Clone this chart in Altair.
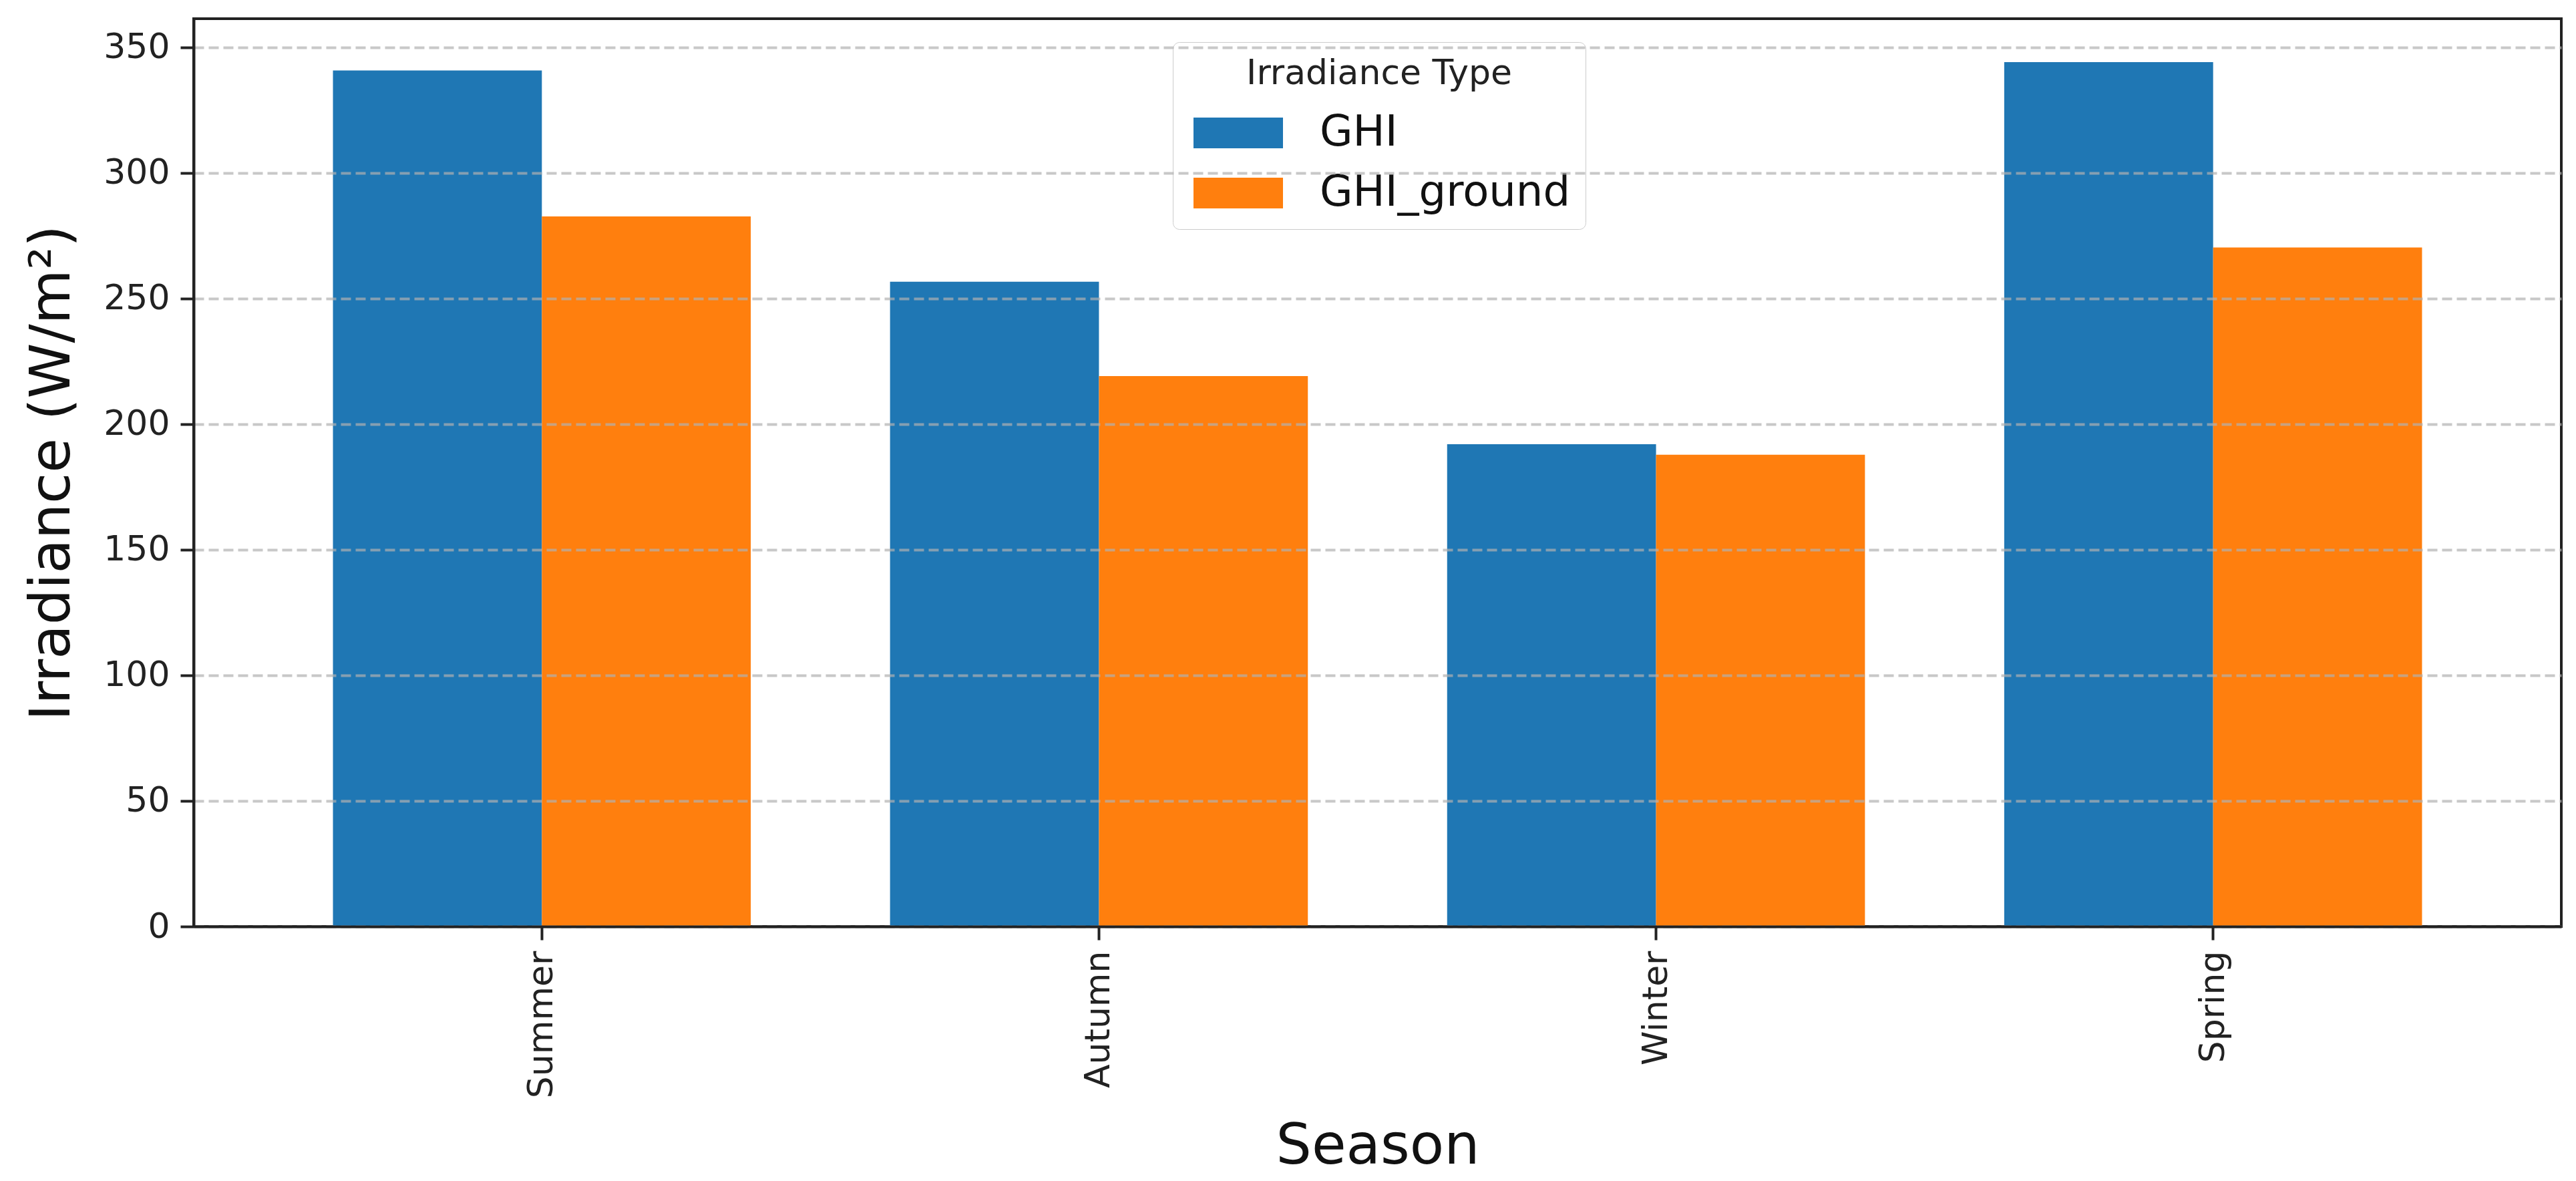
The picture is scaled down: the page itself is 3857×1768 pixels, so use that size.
import altair as alt
import pandas as pd

seasons = ["Summer", "Autumn", "Winter", "Spring"]
types = ["GHI", "GHI_ground"]
ghi = [340.8, 256.7, 192.0, 344.1]
ghi_ground = [282.7, 219.1, 187.8, 270.3]
y_ticks = [0, 50, 100, 150, 200, 250, 300, 350]
colors = ["#1f77b4", "#ff7f0e"]

rows = []
for s, a, b in zip(seasons, ghi, ghi_ground):
    rows.append({"Season": s, "Type": types[0], "Value": a})
    rows.append({"Season": s, "Type": types[1], "Value": b})
df = pd.DataFrame(rows)

FONT = "DejaVu Sans"

chart = alt.Chart(df).mark_bar().encode(
    x=alt.X(
        "Season:N",
        sort=seasons,
        scale=alt.Scale(paddingInner=0.25, paddingOuter=0.25),
        axis=alt.Axis(
            title="Season",
            labelAngle=270,
            labelFontSize=52,
            labelPadding=16,
            labelLimit=0,
            tickSize=20,
            tickWidth=4,
            tickColor="#222",
            domainColor="#222",
            domainWidth=4,
            grid=False,
            titleFontSize=84,
            titleFontWeight="normal",
            titleY=354,
            titleBaseline="alphabetic",
            titleLimit=0,
            zindex=1,
        ),
    ),
    xOffset=alt.XOffset("Type:N", sort=types, scale=alt.Scale(paddingInner=0, paddingOuter=0)),
    y=alt.Y(
        "Value:Q",
        scale=alt.Scale(domain=[0, 361.4], nice=False, zero=True),
        axis=alt.Axis(
            title="Irradiance (W/m²)",
            values=y_ticks,
            labelFontSize=52,
            labelPadding=16,
            labelLimit=0,
            tickSize=20,
            tickWidth=4,
            tickColor="#222",
            domainColor="#222",
            domainWidth=4,
            grid=True,
            gridDash=[15, 7],
            gridColor="#b0b0b0",
            gridOpacity=0.7,
            gridWidth=4,
            titleFontSize=84,
            titleFontWeight="normal",
            titleX=-187,
            titleBaseline="alphabetic",
            titleLimit=0,
            zindex=1,
        ),
    ),
    color=alt.Color(
        "Type:N",
        sort=types,
        scale=alt.Scale(domain=types, range=colors),
        legend=alt.Legend(
            title="Irradiance Type",
            orient="none",
            legendX=1466,
            legendY=35,
            titleAnchor="middle",
            titleFontSize=52,
            titleFontWeight="normal",
            titleColor="#222",
            titlePadding=30,
            titleLimit=0,
            labelFontSize=64,
            labelColor="#111",
            labelLimit=0,
            labelOffset=134,
            symbolType="M-1,-1H4.826V1H-1Z",
            symbolSize=2116,
            symbolStrokeWidth=0,
            symbolOpacity=1,
            rowPadding=26,
            padding=22,
            fillColor="rgba(255,255,255,0.85)",
            strokeColor="#cccccc",
            cornerRadius=10,
        ),
    ),
).properties(
    width=3545,
    height=1359,
    autosize=alt.AutoSizeParams(type="none"),
    padding={"left": 282, "top": 20, "right": 14, "bottom": 378},
).configure(
    font=FONT,
).configure_axis(
    labelFont=FONT,
    titleFont=FONT,
    labelColor="#222",
    titleColor="#111",
).configure_legend(
    labelFont=FONT,
    titleFont=FONT,
).configure_view(
    stroke="#222",
    strokeWidth=4,
)

chart.save("out.html", embed_options={"renderer": "svg", "actions": False})
